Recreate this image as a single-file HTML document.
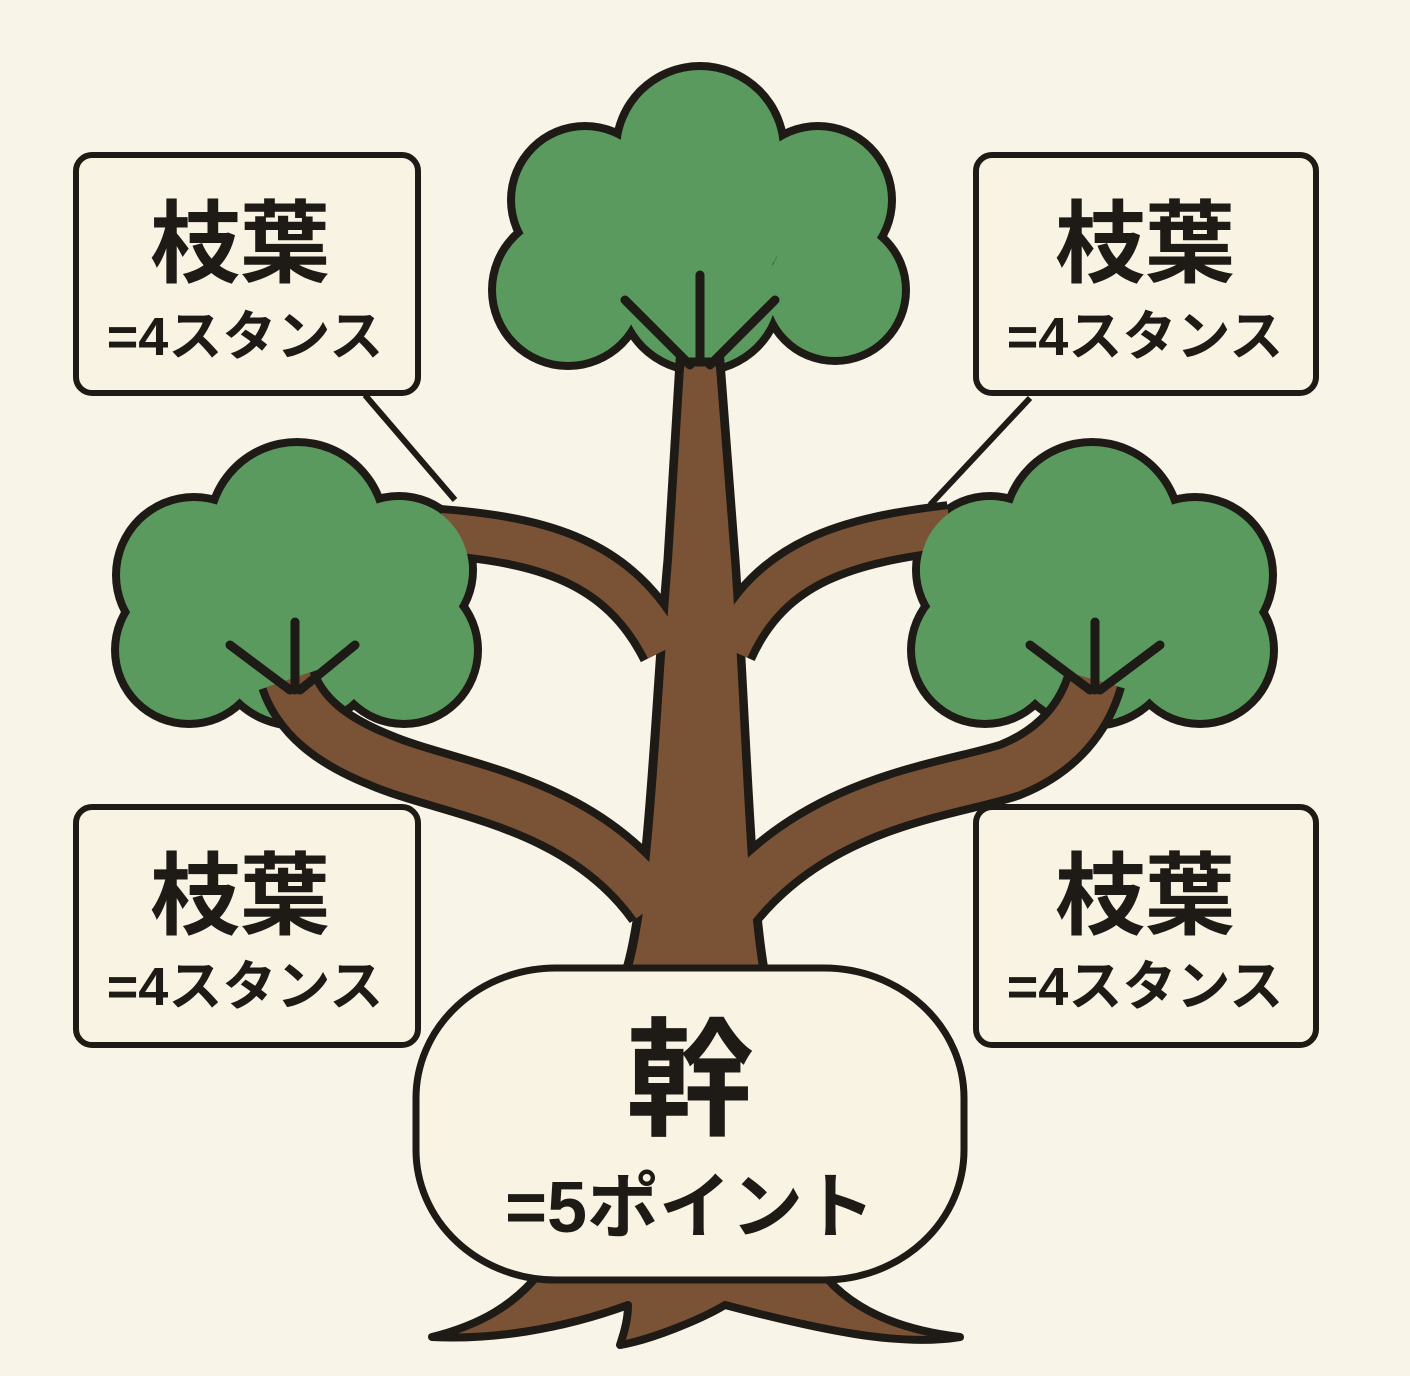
<!DOCTYPE html>
<html><head><meta charset="utf-8"><style>
html,body{margin:0;padding:0;background:#f8f4e8;}
svg{display:block}
text{font-family:"Liberation Sans","Noto Sans CJK JP",sans-serif;font-weight:bold;fill:#1e1a16;text-anchor:middle}
</style></head><body>
<svg width="1410" height="1376" viewBox="0 0 1410 1376">
<rect width="1410" height="1376" fill="#f8f4e8"/>
<!-- leader lines -->
<line x1="365" y1="395" x2="455" y2="500" stroke="#1e1a16" stroke-width="6"/>
<line x1="1030" y1="398" x2="930" y2="505" stroke="#1e1a16" stroke-width="6"/>
<!-- canopies: dark outline circles -->
<g fill="#1e1a16">
<circle cx="700" cy="150" r="88"/><circle cx="585" cy="200" r="78"/><circle cx="818" cy="200" r="78"/><circle cx="568" cy="290" r="80"/><circle cx="835" cy="290" r="75"/><circle cx="700" cy="290" r="85"/>
<circle cx="297" cy="530" r="92"/><circle cx="399" cy="570" r="78"/><circle cx="194" cy="575" r="82"/><circle cx="404" cy="650" r="78"/><circle cx="189" cy="650" r="78"/><circle cx="297" cy="640" r="90"/>
<circle cx="1092" cy="530" r="92"/><circle cx="990" cy="570" r="78"/><circle cx="1195" cy="575" r="82"/><circle cx="985" cy="650" r="78"/><circle cx="1200" cy="650" r="78"/><circle cx="1092" cy="640" r="90"/>
</g>
<g fill="#5a9a5f">
<circle cx="700" cy="150" r="80"/><circle cx="585" cy="200" r="70"/><circle cx="818" cy="200" r="70"/><circle cx="568" cy="290" r="72"/><circle cx="835" cy="290" r="67"/><circle cx="700" cy="290" r="77"/>
<circle cx="700" cy="220" r="85"/>
<circle cx="297" cy="530" r="84"/><circle cx="399" cy="570" r="70"/><circle cx="194" cy="575" r="74"/><circle cx="404" cy="650" r="70"/><circle cx="189" cy="650" r="70"/><circle cx="297" cy="640" r="82"/>
<circle cx="297" cy="590" r="85"/>
<circle cx="1092" cy="530" r="84"/><circle cx="990" cy="570" r="70"/><circle cx="1195" cy="575" r="74"/><circle cx="985" cy="650" r="70"/><circle cx="1200" cy="650" r="70"/><circle cx="1092" cy="640" r="82"/>
<circle cx="1092" cy="590" r="85"/>
</g>
<!-- trunk & branches -->
<g fill="none" stroke="#1e1a16" stroke-linecap="butt">
<path d="M655,905 C580,800 450,790 380,760 C330,740 300,715 288,680" stroke-width="62"/>
<path d="M735,905 C820,800 950,790 1010,770 C1060,750 1085,715 1095,680" stroke-width="62"/>
<path d="M665,650 C620,560 540,540 440,532" stroke-width="54"/>
<path d="M730,650 C770,560 850,540 950,528" stroke-width="54"/>
</g>
<path d="M625,975 C650,900 655,700 668,560 L680,362 L720,362 L735,560 C745,700 750,900 765,975 Z" fill="#7a5236" stroke="#1e1a16" stroke-width="9"/>
<g fill="none" stroke="#7a5236" stroke-linecap="butt">
<path d="M655,905 C580,800 450,790 380,760 C330,740 300,715 288,680" stroke-width="46"/>
<path d="M735,905 C820,800 950,790 1010,770 C1060,750 1085,715 1095,680" stroke-width="46"/>
<path d="M665,650 C620,560 540,540 440,532" stroke-width="38"/>
<path d="M730,650 C770,560 850,540 950,528" stroke-width="38"/>
</g>
<path d="M630,975 C655,900 660,700 672,560 L684,368 L716,368 L731,560 C741,700 746,900 760,975 Z" fill="#7a5236"/>
<!-- re-cover upper branch ends -->
<g fill="#5a9a5f"><circle cx="399" cy="570" r="70"/><circle cx="990" cy="570" r="70"/></g>
<!-- fork lines -->
<g stroke="#1e1a16" stroke-width="9" stroke-linecap="round" fill="none">
<path d="M625,300 L690,365 M775,300 L710,365 M700,275 L700,360"/>
<path d="M230,645 L290,690 M295,622 L295,690 M355,645 L300,690"/>
<path d="M1030,645 L1090,690 M1095,622 L1095,690 M1160,645 L1100,690"/>
</g>
<!-- roots -->
<path d="M542,1270 L820,1270 C850,1310 900,1330 960,1337 C900,1347 820,1330 725,1305 C700,1320 650,1340 620,1345 C625,1330 628,1318 628,1305 C560,1330 490,1340 432,1337 C480,1325 515,1305 542,1270 Z" fill="#7a5236" stroke="#1e1a16" stroke-width="8" stroke-linejoin="round"/>
<!-- trunk label -->
<rect x="416" y="968" width="548" height="312" rx="140" ry="130" fill="#f9f3e3" stroke="#1e1a16" stroke-width="7"/>
<text x="690" y="1125" font-size="128">幹</text>
<text x="690" y="1232" font-size="72">=5ポイント</text>
<!-- boxes -->
<g fill="#f9f3e3" stroke="#1e1a16" stroke-width="6">
<rect x="76" y="155" width="342" height="238" rx="16"/>
<rect x="976" y="155" width="340" height="238" rx="16"/>
<rect x="76" y="807" width="342" height="238" rx="16"/>
<rect x="976" y="807" width="340" height="238" rx="16"/>
</g>
<g>
<text x="240" y="275" font-size="90">枝葉</text><text x="245" y="355" font-size="54">=4スタンス</text>
<text x="1145" y="275" font-size="90">枝葉</text><text x="1145" y="355" font-size="54">=4スタンス</text>
<text x="240" y="927" font-size="90">枝葉</text><text x="245" y="1005" font-size="54">=4スタンス</text>
<text x="1145" y="927" font-size="90">枝葉</text><text x="1145" y="1005" font-size="54">=4スタンス</text>
</g>
</svg>
</body></html>
